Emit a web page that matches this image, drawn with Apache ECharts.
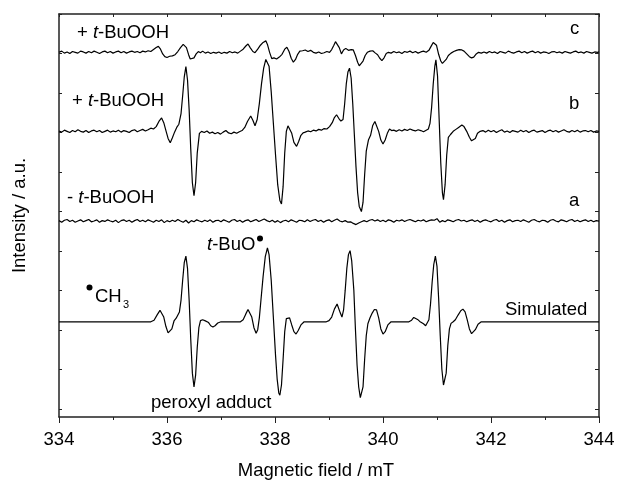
<!DOCTYPE html>
<html>
<head>
<meta charset="utf-8">
<title>EPR spectra</title>
<script src="https://cdn.jsdelivr.net/npm/echarts@6/dist/echarts.min.js"></script>
<style>
html, body { margin: 0; padding: 0; background: #fff; }
#chart { width: 619px; height: 480px; }
</style>
</head>
<body>
<div id="chart"></div>
<script>
// magnetic field ticks (mT)
var fieldTicks = [334, 336, 338, 340, 342, 344];
// intensity ticks on the frame (a.u.)
var intensityTicks = [0, 1, 2, 3, 4, 5, 6, 7, 8, 9, 10];
// baseline of each spectrum (a.u.)
var baselines = [9.03, 7.03, 4.76, 2.21];

// c: + t-BuOOH (weak)
var traceC = [
  [334.00,0.00],[334.05,0.03],[334.10,-0.02],[334.15,0.01],[334.20,-0.03],[334.25,0.02],[334.30,0.00],[334.35,-0.02],[334.40,0.03],[334.45,0.01],
  [334.50,-0.02],[334.55,0.02],[334.60,-0.01],[334.65,0.03],[334.70,0.00],[334.75,-0.03],[334.80,0.01],[334.85,0.03],[334.90,-0.01],[334.95,0.02],
  [335.00,-0.02],[335.05,0.01],[335.10,0.03],[335.15,-0.01],[335.20,0.02],[335.25,-0.02],[335.30,0.01],[335.35,0.03],[335.40,0.00],[335.45,0.02],
  [335.50,-0.01],[335.55,0.03],[335.60,0.01],[335.65,0.04],[335.70,0.02],[335.75,0.07],[335.80,0.12],[335.84,0.15],[335.88,0.08],[335.92,-0.04],
  [335.96,-0.11],[336.00,-0.13],[336.05,-0.10],[336.10,-0.09],[336.15,-0.06],[336.20,0.02],[336.25,0.12],[336.30,0.20],[336.33,0.21],[336.36,0.12],
  [336.40,-0.06],[336.43,-0.17],[336.46,-0.21],[336.50,-0.14],[336.54,-0.04],[336.58,0.02],[336.62,-0.01],[336.66,0.03],[336.71,-0.02],[336.76,0.01],
  [336.81,-0.03],[336.86,0.00],[336.91,-0.02],[336.96,0.01],[337.01,-0.03],[337.06,0.00],[337.11,-0.02],[337.16,0.02],[337.21,-0.01],[337.26,0.01],
  [337.31,-0.02],[337.36,0.03],[337.41,0.08],[337.46,0.16],[337.50,0.21],[337.54,0.12],[337.59,0.02],[337.63,-0.01],[337.68,0.08],[337.73,0.18],
  [337.78,0.25],[337.83,0.29],[337.86,0.20],[337.90,0.00],[337.94,-0.16],[337.98,-0.14],[338.03,-0.17],[338.08,-0.12],[338.13,-0.05],[338.18,0.08],
  [338.22,0.13],[338.26,0.02],[338.30,-0.15],[338.34,-0.25],[338.38,-0.18],[338.42,-0.05],[338.46,0.03],[338.51,0.04],[338.56,0.06],[338.61,0.02],
  [338.66,0.05],[338.71,0.00],[338.76,-0.02],[338.81,0.01],[338.86,-0.03],[338.91,-0.01],[338.96,0.02],[339.01,0.00],[339.05,0.07],[339.09,0.18],
  [339.12,0.27],[339.15,0.31],[339.19,0.12],[339.23,-0.04],[339.27,0.06],[339.31,0.10],[339.36,0.05],[339.41,0.07],[339.45,0.06],[339.49,-0.08],
  [339.53,-0.25],[339.56,-0.34],[339.59,-0.36],[339.63,-0.22],[339.67,-0.08],[339.71,0.00],[339.76,0.03],[339.81,0.04],[339.86,-0.02],[339.90,-0.06],
  [339.94,-0.15],[339.98,-0.21],[340.02,-0.14],[340.06,-0.03],[340.10,0.00],[340.15,-0.02],[340.20,0.02],[340.25,-0.01],[340.30,0.01],[340.35,-0.03],
  [340.40,0.02],[340.45,0.00],[340.50,0.03],[340.55,-0.01],[340.60,0.02],[340.65,-0.02],[340.70,0.01],[340.75,0.03],[340.80,0.00],[340.85,0.05],
  [340.89,0.15],[340.93,0.25],[340.96,0.30],[340.99,0.18],[341.03,-0.05],[341.07,-0.22],[341.10,-0.28],[341.13,-0.29],[341.17,-0.18],[341.21,-0.08],
  [341.26,-0.02],[341.31,0.02],[341.36,0.05],[341.41,0.07],[341.46,0.06],[341.50,0.03],[341.55,-0.04],[341.60,-0.11],[341.64,-0.14],[341.68,-0.12],
  [341.72,-0.05],[341.77,0.00],[341.82,-0.02],[341.87,0.01],[341.92,-0.02],[341.97,0.02],[342.02,-0.01],[342.07,0.01],[342.12,-0.03],[342.17,0.02],
  [342.22,0.00],[342.27,-0.02],[342.32,0.03],[342.37,0.00],[342.42,-0.02],[342.47,0.01],[342.52,0.03],[342.57,-0.01],[342.62,0.02],[342.67,-0.02],
  [342.72,0.01],[342.77,0.03],[342.82,-0.01],[342.87,0.02],[342.92,-0.02],[342.97,0.01],[343.02,0.00],[343.07,-0.03],[343.12,0.01],[343.17,0.02],
  [343.22,-0.01],[343.27,0.01],[343.32,-0.02],[343.37,0.02],[343.42,0.00],[343.47,-0.02],[343.52,0.01],[343.57,0.03],[343.62,-0.01],[343.67,0.01],
  [343.72,-0.02],[343.77,0.02],[343.82,0.00],[343.87,-0.02],[343.92,0.01],[343.97,0.00],[344.00,0.01]
];

// b: + t-BuOOH
var traceB = [
  [334.00,0.01],[334.05,-0.02],[334.10,0.03],[334.15,0.00],[334.20,-0.03],[334.25,0.02],[334.30,-0.01],[334.35,0.04],[334.40,0.00],[334.45,-0.02],
  [334.50,0.02],[334.55,-0.03],[334.60,0.01],[334.65,0.03],[334.70,-0.01],[334.75,0.02],[334.80,-0.03],[334.85,0.00],[334.90,0.03],[334.95,-0.02],
  [335.00,0.01],[335.05,-0.01],[335.10,0.03],[335.15,-0.02],[335.20,0.02],[335.25,0.00],[335.30,-0.03],[335.35,0.02],[335.40,0.04],[335.45,-0.01],
  [335.50,0.02],[335.55,0.05],[335.60,0.01],[335.65,0.04],[335.70,0.08],[335.75,0.06],[335.80,0.12],[335.85,0.25],[335.90,0.34],[335.94,0.22],
  [335.98,0.02],[336.02,-0.18],[336.06,-0.29],[336.10,-0.16],[336.14,-0.02],[336.18,0.10],[336.22,0.18],[336.26,0.45],[336.29,0.90],[336.32,1.38],
  [336.35,1.64],[336.38,1.30],[336.41,0.55],[336.44,-0.45],[336.47,-1.30],[336.50,-1.63],[336.53,-1.30],[336.56,-0.55],[336.60,-0.05],[336.64,0.00],
  [336.69,-0.03],[336.74,0.01],[336.79,-0.05],[336.84,-0.02],[336.89,-0.06],[336.94,-0.03],[336.99,-0.07],[337.04,-0.02],[337.09,0.02],[337.14,-0.04],
  [337.19,-0.06],[337.24,-0.02],[337.29,-0.05],[337.34,-0.01],[337.39,0.02],[337.44,0.10],[337.49,0.25],[337.55,0.39],[337.59,0.28],[337.63,0.14],
  [337.67,0.30],[337.71,0.70],[337.75,1.20],[337.79,1.60],[337.83,1.82],[337.86,1.85],[337.89,1.65],[337.93,1.00],[337.97,0.20],[338.01,-0.60],
  [338.05,-1.35],[338.09,-1.75],[338.12,-1.84],[338.15,-1.40],[338.18,-0.55],[338.21,0.00],[338.24,0.14],[338.27,0.16],[338.31,-0.05],[338.35,-0.28],
  [338.40,-0.38],[338.44,-0.25],[338.48,-0.10],[338.52,-0.04],[338.56,-0.02],[338.61,0.01],[338.66,-0.01],[338.71,0.03],[338.76,0.01],[338.81,0.05],
  [338.86,0.03],[338.91,0.07],[338.96,0.06],[339.01,0.12],[339.06,0.22],[339.10,0.35],[339.14,0.42],[339.18,0.33],[339.22,0.26],[339.26,0.30],
  [339.29,0.70],[339.32,1.20],[339.35,1.50],[339.38,1.60],[339.41,1.35],[339.44,0.70],[339.47,-0.10],[339.50,-0.90],[339.53,-1.55],[339.56,-1.90],
  [339.60,-2.03],[339.63,-1.80],[339.66,-1.10],[339.69,-0.50],[339.73,-0.22],[339.77,-0.10],[339.81,0.15],[339.85,0.25],[339.88,0.22],[339.92,0.00],
  [339.96,-0.22],[340.00,-0.32],[340.04,-0.22],[340.08,-0.05],[340.12,0.06],[340.16,0.02],[340.20,0.03],[340.25,0.00],[340.30,0.04],[340.35,0.01],
  [340.40,0.05],[340.45,0.02],[340.50,0.06],[340.55,0.03],[340.60,0.01],[340.65,0.04],[340.70,0.02],[340.75,-0.01],[340.80,0.03],[340.84,0.06],
  [340.87,0.20],[340.90,0.60],[340.93,1.20],[340.96,1.65],[340.98,1.81],[341.01,1.40],[341.04,0.30],[341.07,-0.80],[341.10,-1.55],[341.12,-1.73],
  [341.15,-1.35],[341.18,-0.60],[341.21,-0.15],[341.25,-0.08],[341.30,0.00],[341.35,0.05],[341.40,0.10],[341.46,0.16],[341.50,0.12],[341.55,0.00],
  [341.60,-0.15],[341.64,-0.24],[341.67,-0.26],[341.71,-0.18],[341.75,-0.05],[341.80,0.00],[341.85,0.02],[341.90,-0.02],[341.95,0.03],[342.00,-0.01],
  [342.05,0.02],[342.10,-0.03],[342.15,0.01],[342.20,0.04],[342.25,-0.02],[342.30,0.01],[342.35,-0.03],[342.40,0.02],[342.45,0.00],[342.50,-0.02],
  [342.55,0.03],[342.60,-0.01],[342.65,0.02],[342.70,-0.03],[342.75,0.01],[342.80,0.03],[342.85,-0.02],[342.90,0.00],[342.95,0.02],[343.00,-0.03],
  [343.05,0.01],[343.10,0.03],[343.15,-0.01],[343.20,0.02],[343.25,-0.02],[343.30,0.01],[343.35,0.04],[343.40,0.00],[343.45,-0.02],[343.50,0.02],
  [343.55,-0.01],[343.60,0.03],[343.65,-0.02],[343.70,0.01],[343.75,0.02],[343.80,-0.01],[343.85,0.02],[343.90,-0.02],[343.95,0.01],[344.00,0.00]
];

// a: - t-BuOOH (noise only)
var traceA = [
  [334.00,0.01],[334.05,-0.03],[334.10,0.02],[334.15,0.04],[334.20,-0.01],[334.25,0.02],[334.30,-0.03],[334.35,0.00],[334.40,0.03],[334.45,-0.02],
  [334.50,0.01],[334.55,0.04],[334.60,-0.02],[334.65,0.00],[334.70,0.03],[334.75,-0.03],[334.80,0.01],[334.85,-0.01],[334.90,0.03],[334.95,0.00],
  [335.00,-0.02],[335.05,0.02],[335.10,-0.04],[335.15,0.01],[335.20,0.03],[335.25,-0.01],[335.30,0.02],[335.35,-0.03],[335.40,0.01],[335.45,0.04],
  [335.50,-0.01],[335.55,0.02],[335.60,-0.02],[335.65,0.03],[335.70,0.00],[335.75,-0.03],[335.80,0.02],[335.85,-0.01],[335.90,0.03],[335.95,-0.04],
  [336.00,0.01],[336.05,-0.02],[336.10,0.02],[336.15,-0.01],[336.20,0.04],[336.25,0.00],[336.30,-0.03],[336.35,0.02],[336.40,-0.05],[336.45,0.01],
  [336.50,-0.02],[336.55,0.03],[336.60,0.00],[336.65,-0.02],[336.70,0.02],[336.75,-0.01],[336.80,0.03],[336.85,-0.03],[336.90,0.01],[336.95,0.02],
  [337.00,-0.02],[337.05,0.03],[337.10,0.00],[337.15,-0.03],[337.20,0.02],[337.25,0.04],[337.30,-0.01],[337.35,0.02],[337.40,-0.03],[337.45,0.01],
  [337.50,0.03],[337.55,-0.02],[337.60,0.01],[337.65,0.04],[337.70,-0.01],[337.75,0.02],[337.80,0.05],[337.85,0.01],[337.90,-0.02],[337.95,0.02],
  [338.00,-0.03],[338.05,0.01],[338.10,-0.04],[338.15,0.00],[338.20,0.02],[338.25,-0.02],[338.30,0.03],[338.35,0.00],[338.40,-0.03],[338.45,0.02],
  [338.50,0.01],[338.55,-0.02],[338.60,0.03],[338.65,-0.01],[338.70,0.02],[338.75,0.04],[338.80,-0.01],[338.85,0.02],[338.90,-0.03],[338.95,0.01],
  [339.00,0.03],[339.05,-0.02],[339.10,0.02],[339.15,0.05],[339.20,0.00],[339.25,-0.02],[339.30,0.01],[339.35,-0.03],[339.40,-0.02],[339.45,-0.06],
  [339.50,-0.09],[339.55,-0.05],[339.60,-0.02],[339.65,0.01],[339.70,-0.02],[339.75,0.02],[339.80,0.04],[339.85,0.00],[339.90,0.03],[339.95,-0.01],
  [340.00,0.02],[340.05,-0.02],[340.10,0.03],[340.15,0.01],[340.20,-0.03],[340.25,0.02],[340.30,0.00],[340.35,0.03],[340.40,-0.01],[340.45,0.02],
  [340.50,0.04],[340.55,0.01],[340.60,-0.02],[340.65,0.02],[340.70,0.00],[340.75,0.03],[340.80,-0.02],[340.85,0.01],[340.90,0.03],[340.95,0.02],
  [341.00,0.06],[341.05,-0.03],[341.10,0.01],[341.15,-0.02],[341.20,0.03],[341.25,0.01],[341.30,-0.02],[341.35,0.02],[341.40,0.04],[341.45,0.00],
  [341.50,0.02],[341.55,-0.02],[341.60,0.01],[341.65,0.03],[341.70,-0.01],[341.75,0.02],[341.80,-0.03],[341.85,0.01],[341.90,0.03],[341.95,0.00],
  [342.00,-0.02],[342.05,0.02],[342.10,0.04],[342.15,-0.01],[342.20,0.02],[342.25,-0.03],[342.30,0.01],[342.35,0.03],[342.40,-0.02],[342.45,0.01],
  [342.50,0.02],[342.55,-0.01],[342.60,0.03],[342.65,0.00],[342.70,-0.03],[342.75,0.02],[342.80,0.04],[342.85,0.00],[342.90,-0.02],[342.95,0.02],
  [343.00,0.01],[343.05,-0.03],[343.10,0.02],[343.15,0.04],[343.20,0.00],[343.25,-0.02],[343.30,0.03],[343.35,0.01],[343.40,-0.02],[343.45,0.02],
  [343.50,0.04],[343.55,-0.01],[343.60,0.02],[343.65,-0.02],[343.70,0.01],[343.75,0.03],[343.80,-0.01],[343.85,0.02],[343.90,-0.02],[343.95,0.01],
  [344.00,0.00]
];

// simulated spectrum
var traceSim = [
  [334.00,0],[335.70,0],[335.76,0.04],[335.82,0.18],[335.87,0.29],[335.90,0.28],[335.94,0.12],[335.98,-0.12],[336.02,-0.28],[336.05,-0.30],
  [336.09,-0.18],[336.13,0.02],[336.17,0.09],[336.20,0.12],[336.23,0.25],[336.26,0.55],[336.29,1.05],[336.32,1.50],[336.35,1.66],[336.38,1.35],
  [336.41,0.55],[336.44,-0.45],[336.47,-1.30],[336.50,-1.65],[336.53,-1.35],[336.56,-0.65],[336.59,-0.15],[336.62,0.03],[336.66,0.05],[336.70,0.03],
  [336.73,0.05],[336.77,-0.02],[336.81,-0.10],[336.85,-0.13],[336.89,-0.10],[336.94,-0.03],[337.00,0],[337.36,0],[337.41,0.05],[337.46,0.20],
  [337.50,0.31],[337.53,0.30],[337.57,0.12],[337.61,-0.15],[337.65,-0.29],[337.68,-0.20],[337.71,0.10],[337.74,0.55],[337.78,1.15],[337.82,1.65],
  [337.86,1.87],[337.89,1.70],[337.93,1.05],[337.97,0.10],[338.01,-0.85],[338.04,-1.45],[338.07,-1.80],[338.09,-1.86],[338.12,-1.60],[338.15,-0.95],
  [338.18,-0.25],[338.21,0.08],[338.24,0.12],[338.27,0.10],[338.31,-0.08],[338.35,-0.25],[338.39,-0.31],[338.43,-0.22],[338.48,-0.08],[338.54,0],
  [338.95,0],[339.00,0.03],[339.05,0.12],[339.10,0.32],[339.15,0.45],[339.18,0.40],[339.21,0.22],[339.24,0.12],[339.27,0.30],[339.30,0.80],
  [339.33,1.35],[339.36,1.70],[339.39,1.80],[339.42,1.55],[339.46,0.80],[339.49,-0.20],[339.52,-1.10],[339.55,-1.65],[339.58,-1.92],[339.60,-1.96],
  [339.63,-1.65],[339.66,-0.95],[339.69,-0.35],[339.72,-0.05],[339.76,0.10],[339.80,0.22],[339.84,0.31],[339.88,0.30],[339.92,0.10],[339.96,-0.18],
  [340.00,-0.31],[340.04,-0.25],[340.09,-0.08],[340.15,0],[340.48,0],[340.53,0.04],[340.57,0.11],[340.60,0.13],[340.64,0.06],[340.68,0.01],
  [340.71,0.01],[340.75,-0.05],[340.79,-0.10],[340.82,-0.11],[340.85,0.05],[340.88,0.45],[340.91,1.00],[340.94,1.45],[340.97,1.66],[341.00,1.40],
  [341.03,0.60],[341.06,-0.35],[341.09,-1.20],[341.12,-1.60],[341.14,-1.65],[341.17,-1.30],[341.20,-0.60],[341.23,-0.18],[341.26,-0.04],[341.30,0.00],
  [341.34,0.05],[341.39,0.17],[341.44,0.28],[341.48,0.32],[341.52,0.25],[341.56,0.05],[341.60,-0.18],[341.64,-0.30],[341.67,-0.31],[341.71,-0.20],
  [341.76,-0.06],[341.82,0],[344.00,0]
];

var traces = [traceC, traceB, traceA, traceSim];

var FONT = 'Liberation Sans, Arial, sans-serif';
var INK = '#000';
var SIZE = 18.5;

var chart = echarts.init(document.getElementById('chart'), null, { renderer: 'canvas' });

// put every spectrum on its own baseline
function shifted(trace, base) {
  return trace.map(function (p) {
    return [p[0], Math.round((p[1] + base) * 1000) / 1000];
  });
}

function txt(text, x, y, extra) {
  var style = {
    text: text,
    x: x,
    y: y,
    fill: INK,
    font: SIZE + 'px ' + FONT,
    align: 'left',
    verticalAlign: 'middle'
  };
  for (var k in extra) style[k] = extra[k];
  return { type: 'text', silent: true, style: style };
}

var italic = { i: { fontStyle: 'italic', fontSize: SIZE, fontFamily: FONT, fill: INK } };

var frame = { onZero: false, lineStyle: { color: '#222', width: 1.5 } };

var option = {
  backgroundColor: '#fff',
  animation: false,
  // fixed plot box, do not let the axis names squeeze it
  grid: { left: 59, right: 20, top: 14, bottom: 63, outerBoundsMode: 'none' },
  xAxis: [
    {
      type: 'value',
      position: 'bottom',
      min: fieldTicks[0],
      max: fieldTicks[fieldTicks.length - 1],
      interval: 2,
      name: 'Magnetic field / mT',
      nameLocation: 'middle',
      nameGap: 44,
      nameTextStyle: { fontSize: SIZE, fontFamily: FONT, color: INK, padding: [0, 26, 0, 0] },
      axisLine: frame,
      axisTick: { show: true, inside: false, length: 6, lineStyle: { color: '#222', width: 1 } },
      minorTick: { show: true, splitNumber: 2, length: 3, lineStyle: { color: '#222', width: 1 } },
      axisLabel: { fontSize: SIZE, fontFamily: FONT, color: INK, margin: 13 },
      splitLine: { show: false }
    },
    {
      type: 'value',
      position: 'top',
      min: fieldTicks[0],
      max: fieldTicks[fieldTicks.length - 1],
      interval: 1,
      axisLine: frame,
      axisTick: { show: true, inside: true, length: 3, lineStyle: { color: '#222', width: 1 } },
      axisLabel: { show: false },
      splitLine: { show: false }
    }
  ],
  yAxis: [
    {
      type: 'value',
      position: 'left',
      min: -0.2,
      max: 10,
      name: 'Intensity / a.u.',
      nameLocation: 'middle',
      nameGap: 30,
      nameTextStyle: { fontSize: SIZE, fontFamily: FONT, color: INK },
      axisLine: frame,
      axisTick: { show: true, inside: true, length: 3, customValues: intensityTicks, lineStyle: { color: '#222', width: 1 } },
      axisLabel: { show: false },
      splitLine: { show: false }
    },
    {
      type: 'value',
      position: 'right',
      min: -0.2,
      max: 10,
      axisLine: frame,
      axisTick: { show: true, inside: true, length: 4, customValues: intensityTicks, lineStyle: { color: '#222', width: 1 } },
      axisLabel: { show: false },
      splitLine: { show: false }
    }
  ],
  series: traces.map(function (t, i) {
    return {
      type: 'line',
      xAxisIndex: 0,
      yAxisIndex: 0,
      data: shifted(t, baselines[i]),
      showSymbol: false,
      symbol: 'none',
      clip: true,
      lineStyle: { color: INK, width: 1.2 },
      emphasis: { disabled: true }
    };
  }),
  graphic: [
    txt('+ {i|t}-BuOOH', 77, 33, { rich: italic }),
    txt('+ {i|t}-BuOOH', 72, 101, { rich: italic }),
    txt('- {i|t}-BuOOH', 67, 197.5, { rich: italic }),
    txt('c', 570, 29),
    txt('b', 569, 104),
    txt('a', 569, 201),
    txt('{i|t}-BuO', 207, 244.5, { rich: italic }),
    txt('CH', 95, 297),
    txt('3', 123, 305, { font: '11px ' + FONT }),
    txt('peroxyl adduct', 151, 403),
    txt('Simulated', 505, 310),
    { type: 'circle', silent: true, shape: { cx: 260, cy: 238.5, r: 3 }, style: { fill: INK } },
    { type: 'circle', silent: true, shape: { cx: 89.5, cy: 287.5, r: 3 }, style: { fill: INK } }
  ]
};

chart.setOption(option);
</script>
</body>
</html>
